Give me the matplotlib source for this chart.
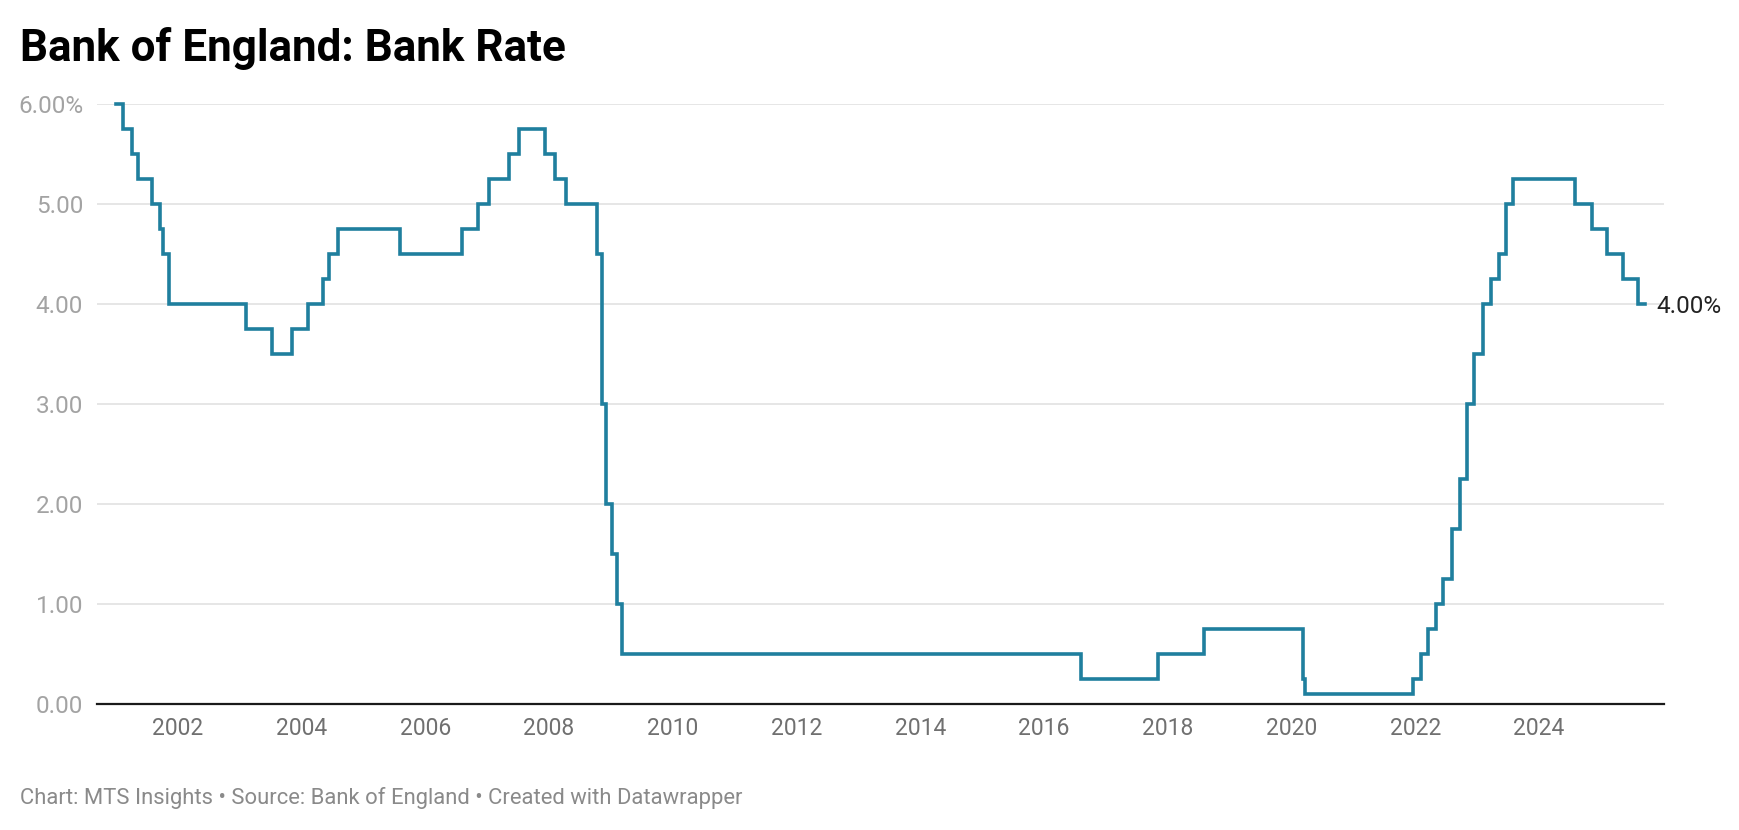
import matplotlib
matplotlib.use("Agg")
import matplotlib.pyplot as plt
import pandas as pd

# Bank Rate change dates and new rates (step "post")
change_dates = [
    "2001-01-01", "2001-02-08", "2001-04-05", "2001-05-10", "2001-08-02", "2001-09-18",
    "2001-10-04", "2001-11-08", "2003-02-06", "2003-07-10", "2003-11-06", "2004-02-05",
    "2004-05-06", "2004-06-10", "2004-08-05", "2005-08-04", "2006-08-03", "2006-11-09",
    "2007-01-11", "2007-05-10", "2007-07-05", "2007-12-06", "2008-02-07", "2008-04-10",
    "2008-10-08", "2008-11-06", "2008-12-04", "2009-01-08", "2009-02-05", "2009-03-05",
    "2016-08-04", "2017-11-02", "2018-08-02", "2020-03-11", "2020-03-19", "2021-12-16",
    "2022-02-03", "2022-03-17", "2022-05-05", "2022-06-16", "2022-08-04", "2022-09-22",
    "2022-11-03", "2022-12-15", "2023-02-02", "2023-03-23", "2023-05-11", "2023-06-22",
    "2023-08-03", "2024-08-01", "2024-11-07", "2025-02-06", "2025-05-08", "2025-08-07",
    "2025-09-15",
]
rates = [
    6.00, 5.75, 5.50, 5.25, 5.00, 4.75,
    4.50, 4.00, 3.75, 3.50, 3.75, 4.00,
    4.25, 4.50, 4.75, 4.50, 4.75, 5.00,
    5.25, 5.50, 5.75, 5.50, 5.25, 5.00,
    4.50, 3.00, 2.00, 1.50, 1.00, 0.50,
    0.25, 0.50, 0.75, 0.25, 0.10, 0.25,
    0.50, 0.75, 1.00, 1.25, 1.75, 2.25,
    3.00, 3.50, 4.00, 4.25, 4.50, 5.00,
    5.25, 5.00, 4.75, 4.50, 4.25, 4.00,
    4.00,
]
y_ticks = [0, 1, 2, 3, 4, 5, 6]
y_tick_labels = ["0.00", "1.00", "2.00", "3.00", "4.00", "5.00", "6.00%"]
x_tick_years = list(range(2002, 2025, 2))
title = "Bank of England: Bank Rate"
footer = "Chart: MTS Insights \u2022 Source: Bank of England \u2022 Created with Datawrapper"
end_label = "4.00%"

plt.rcParams['font.family'] = ['Roboto', 'DejaVu Sans']

W, H = 1740, 830
fig = plt.figure(figsize=(W / 100, H / 100), dpi=100)
left, right, top, bottom = 97, 1664, 104, 704
ax = fig.add_axes([left / W, 1 - bottom / H, (right - left) / W, (bottom - top) / H])

dates = pd.to_datetime(change_dates)
line_color = "#1f7f9e"
ax.step(dates, rates, where="post", color=line_color, lw=2.6, clip_on=False,
        solid_joinstyle="miter", zorder=3)

ax.set_ylim(0, 6)
ax.set_xlim(pd.Timestamp("2000-09-10"), pd.Timestamp("2026-01-08"))

ax.set_yticks(y_ticks)
ax.set_yticklabels(y_tick_labels)
ax.set_xticks([pd.Timestamp(f"{y}-01-01") for y in x_tick_years])
ax.set_xticklabels([str(y) for y in x_tick_years])

ax.grid(axis="y", color="#e2e2e2", lw=1.2, zorder=0)
ax.grid(axis="x", visible=False)
for s in ["top", "right", "left"]:
    ax.spines[s].set_visible(False)
ax.spines["bottom"].set_color("#1a1a1a")
ax.spines["bottom"].set_linewidth(1.6)
ax.spines["bottom"].set_zorder(4)

ax.tick_params(axis="y", length=0, pad=10, labelsize=17.5, labelcolor="#a3a3a3")
ax.tick_params(axis="x", length=0, pad=9, labelsize=16.5, labelcolor="#707070")

# End label
ax.annotate(end_label, xy=(dates[-1], rates[-1]), xytext=(8.5, 0), textcoords="offset points",
            va="center_baseline", ha="left", fontsize=17.5, color="#222222", annotation_clip=False)

fig.text(20 / W, 1 - 61 / H, title, fontsize=31.7, fontweight="bold", color="#000000",
         va="baseline", ha="left")
fig.text(20 / W, 1 - 804 / H, footer, fontsize=15.8, color="#8a8a8a", va="baseline", ha="left")

fig.savefig("out.png", dpi=100, facecolor="white")
